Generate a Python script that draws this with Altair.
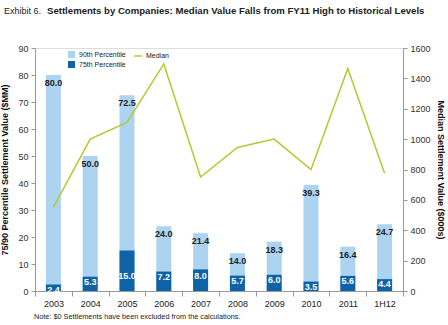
import altair as alt
import pandas as pd

years = ["2003", "2004", "2005", "2006", "2007", "2008", "2009", "2010", "2011", "1H12"]
p90 = [80.0, 50.0, 72.5, 24.0, 21.4, 14.0, 18.3, 39.3, 16.4, 24.7]
p75 = [2.4, 5.3, 15.0, 7.2, 8.0, 5.7, 6.0, 3.5, 5.6, 4.4]
median = [550, 1000, 1110, 1495, 750, 945, 1000, 800, 1465, 775]

title_pre = "Exhibit 6."
title_main = "Settlements by Companies: Median Value Falls from FY11 High to Historical Levels"
note = "Note: $0 Settlements have been excluded from the calculations."

FONT = "Liberation Sans"
LIGHT = "#acd4f1"
DARK = "#0d62a8"
LINE = "#b5c832"

rows = []
for y, v in zip(years, p90):
    rows.append({"year": y, "series": "90th Percentile", "value": v})
for y, v in zip(years, p75):
    rows.append({"year": y, "series": "75th Percentile", "value": v})
bars_df = pd.DataFrame(rows)

lab_df = pd.DataFrame({"year": years, "p90": p90, "p75": p75, "median": median})

xaxis = alt.Axis(labelAngle=0, tickBand="extent", labelFontSize=9,
                 labelColor="#222", labelPadding=3, tickSize=5,
                 domainColor="#999", tickColor="#999", labelFont=FONT)
xscale = alt.Scale(paddingInner=0, paddingOuter=0)


def xenc():
    return alt.X("year:N", sort=years, title=None, scale=xscale, axis=xaxis)


LEFT_TITLE = "75/90 Percentile Settlement Value ($MM)"
yaxis_left = alt.Axis(values=list(range(0, 91, 10)), grid=False, tickSize=4,
                      labelOverlap=False,
                      labelFontSize=9, labelColor="#333", labelPadding=3,
                      titleFontSize=9, titleFontWeight="bold", titleColor="#111",
                      titlePadding=8, domainColor="#999", tickColor="#999",
                      labelFont=FONT, titleFont=FONT)
yscale_left = alt.Scale(domain=[0, 90])


def yleft(field):
    return alt.Y(field, scale=yscale_left, stack=None, title=LEFT_TITLE, axis=yaxis_left)


bars = alt.Chart(bars_df).mark_bar(size=15).encode(
    x=xenc(),
    y=yleft("value:Q"),
    color=alt.Color("series:N",
                    scale=alt.Scale(domain=["90th Percentile", "75th Percentile"], range=[LIGHT, DARK]),
                    legend=alt.Legend(title=None, orient="none", legendX=33, legendY=3,
                                      symbolType="square", symbolSize=49, symbolStrokeWidth=0,
                                      labelFontSize=7, labelFont=FONT, labelColor="#222",
                                      labelOffset=4, rowPadding=2, padding=0)),
)

lab90 = alt.Chart(lab_df).mark_text(baseline="middle", dy=8, fontWeight="bold",
                                    fontSize=9, font=FONT, color="#222").encode(
    x=xenc(),
    y=yleft("p90:Q"),
    text=alt.Text("p90:Q", format=".1f"),
)

lab75 = alt.Chart(lab_df).transform_calculate(
    pos="min(datum.p75, 7.5)"
).mark_text(baseline="middle", dy=5, fontWeight="bold", fontSize=9, font=FONT,
            color="white").encode(
    x=xenc(),
    y=yleft("pos:Q"),
    text=alt.Text("p75:Q", format=".1f"),
)

line = alt.Chart(lab_df).transform_calculate(s="'Median'").mark_line(strokeWidth=1.5).encode(
    x=xenc(),
    y=alt.Y("median:Q", scale=alt.Scale(domain=[0, 1600]),
            title="Median Settlement Value ($000s)",
            axis=alt.Axis(orient="right", values=list(range(0, 1601, 200)), grid=False,
                          format="d", labelOverlap=False,
                          tickSize=4, labelFontSize=9, labelColor="#333", labelPadding=3,
                          titleFontSize=9, titleFontWeight="bold", titleColor="#111",
                          titlePadding=5, domainColor="#999", tickColor="#999",
                          labelFont=FONT, titleFont=FONT)),
    stroke=alt.Stroke("s:N", scale=alt.Scale(domain=["Median"], range=[LINE]),
                      legend=alt.Legend(title=None, orient="none", legendX=98, legendY=3,
                                        symbolType="stroke", symbolSize=60, symbolStrokeWidth=1.5,
                                        labelFontSize=7, labelFont=FONT, labelColor="#222",
                                        labelOffset=3, padding=0)),
)

txt_df = pd.DataFrame({"t": [title_pre, title_main, note],
                       "kind": ["pre", "main", "note"]})


def txt(kind, x, y, size, weight):
    return alt.Chart(txt_df).transform_filter(alt.datum.kind == kind).mark_text(
        align="left", baseline="middle", fontSize=size, font=FONT,
        fontWeight=weight, color="#222").encode(
        x=alt.value(x), y=alt.value(y), text="t:N")


t1 = txt("pre", -31, -37, 9, "normal")
t2 = txt("main", 12, -37, 9.6, "bold")
t3 = txt("note", -1, 269, 7.3, "normal")

left_layer = alt.layer(bars, lab90, lab75, t1, t2, t3)
chart = alt.layer(left_layer, line).resolve_scale(y="independent", color="independent").properties(
    width=368, height=243,
    autosize=alt.AutoSizeParams(type="none"),
    padding={"left": 35, "top": 48, "right": 45, "bottom": 34},
).configure_view(stroke=None).configure(background="white")

chart.save("out.html", embed_options={"renderer": "svg", "actions": False})
